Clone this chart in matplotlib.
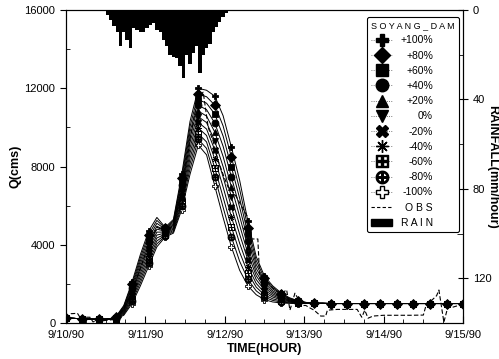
"""Soyang dam: simulated hydrographs for parameter change +-100%, obs and rainfall."""
import matplotlib
matplotlib.use("Agg")
import matplotlib.pyplot as plt
from matplotlib.lines import Line2D
from matplotlib.patches import Patch
import numpy as np

plt.rcParams["font.family"] = ["Liberation Sans", "DejaVu Sans"]

# ---------------------------------------------------------------- data
# simulated discharge every 2.5 h (0 .. 120 h)
hours = np.arange(0, 120.1, 2.5)
head_q = [260, 240, 220, 200, 190, 200]                      # 0 .. 12.5 h
tail_q = [1010, 1010, 1000, 1000, 1000, 1000, 1000, 1000, 1000, 1000,
          1000, 1000, 1000, 1000, 1000, 1000, 1000, 1000, 1000]  # 75 .. 120 h
# 15 .. 72.5 h, one list per scenario
sim_p100 = [300, 900, 2100, 3500, 4700, 5400, 4900, 5300, 7600, 10300, 12000, 11900,
            11600, 10600, 9000, 7300, 5200, 3400, 2400, 1900, 1550, 1300, 1150, 1060]
sim_p80 = [290, 850, 1990, 3340, 4520, 5250, 4850, 5230, 7420, 10030, 11710, 11570,
           11140, 10080, 8490, 6840, 4870, 3200, 2280, 1820, 1500, 1270, 1135, 1055]
sim_p60 = [280, 800, 1880, 3180, 4340, 5100, 4800, 5160, 7240, 9760, 11420, 11240,
           10680, 9560, 7980, 6380, 4540, 3000, 2160, 1740, 1450, 1240, 1120, 1050]
sim_p40 = [270, 750, 1770, 3020, 4160, 4950, 4750, 5090, 7060, 9490, 11130, 10910,
           10220, 9040, 7470, 5920, 4210, 2800, 2040, 1650, 1390, 1210, 1105, 1040]
sim_p20 = [260, 700, 1660, 2860, 3980, 4800, 4700, 5020, 6880, 9220, 10840, 10580,
           9760, 8520, 6960, 5460, 3880, 2600, 1920, 1570, 1340, 1180, 1090, 1035]
sim_0 = [250, 650, 1550, 2700, 3800, 4650, 4650, 4950, 6700, 8950, 10550, 10250,
         9300, 8000, 6450, 5000, 3550, 2420, 1800, 1490, 1290, 1155, 1075, 1030]
sim_m20 = [240, 600, 1440, 2540, 3620, 4500, 4600, 4880, 6520, 8680, 10260, 9920,
           8840, 7480, 5940, 4540, 3220, 2230, 1680, 1410, 1240, 1125, 1060, 1025]
sim_m40 = [230, 550, 1330, 2380, 3440, 4350, 4550, 4810, 6340, 8410, 9970, 9590,
           8380, 6960, 5430, 4080, 2890, 2030, 1560, 1330, 1190, 1100, 1045, 1020]
sim_m60 = [220, 500, 1220, 2220, 3260, 4200, 4500, 4740, 6160, 8140, 9680, 9260,
           7920, 6440, 4920, 3620, 2560, 1840, 1440, 1240, 1130, 1070, 1030, 1010]
sim_m80 = [210, 450, 1110, 2060, 3080, 4050, 4450, 4670, 5980, 7870, 9390, 8930,
           7460, 5920, 4410, 3160, 2230, 1650, 1320, 1160, 1080, 1040, 1015, 1005]
sim_m100 = [200, 400, 1000, 1900, 2900, 3900, 4400, 4600, 5800, 7600, 9100, 8600,
            7000, 5400, 3900, 2700, 1900, 1450, 1200, 1080, 1030, 1010, 1000, 1000]
sim_labels = ["+100%", "+80%", "+60%", "+40%", "+20%", "0%",
              "-20%", "-40%", "-60%", "-80%", "-100%"]

# observed discharge (irregular read-off times)
obs_t = [0, 1.5, 3.5, 4.8, 6.3, 7.3, 8.2, 9.5, 11, 13, 15, 17.5, 20, 22.5, 25,
         27.5, 30, 32.5, 35, 37.5, 40, 41.5, 43, 44.5, 46, 47.5, 49, 51, 53, 55,
         56, 58, 58.5, 60, 62.5, 65, 66.7, 67.7, 69.2, 71.3, 72.5, 74, 75, 77,
         78.5, 79, 82, 85, 88, 89.4, 90.3, 91.3, 92.8, 96, 100, 104, 108, 109,
         110.6, 112, 112.7, 114.2, 115.4, 117, 119, 120]
obs_q = [250, 480, 500, 150, 300, 300, 60, 150, 120, 150, 200, 700, 1600, 2800,
         4000, 4900, 4700, 5000, 6800, 9400, 11600, 11800, 10000, 9300, 8300,
         7600, 6950, 6600, 6000, 5400, 4300, 4300, 2500, 2300, 1800, 1500, 1700,
         660, 1530, 900, 900, 750, 660, 360, 360, 660, 700, 700, 700, 300, 660,
         250, 360, 400, 400, 400, 410, 1020, 1175, 1400, 1690, 50, 820, 820, 920,
         900]

# hourly rainfall (mm/hour), hours 12 .. 49
rain_h = np.arange(12, 50)
rain = [2, 4.5, 7, 10, 16, 10, 13.5, 17, 8, 9, 10, 10, 8, 6.5, 6, 9, 10, 13.5,
        16, 20, 21, 21.5, 25, 30.5, 20, 24, 19, 16, 28, 20, 17, 15, 10, 7.5,
        5.5, 3, 1.5, 0.5]

day_labels = ["9/10/90", "9/11/90", "9/12/90", "9/13/90", "9/14/90", "9/15/90"]

# ---------------------------------------------------------------- figure
fig = plt.figure(figsize=(4.99, 3.59), dpi=100)
ax = fig.add_axes([0.132, 0.100, 0.796, 0.872])
ax2 = ax.twinx()

sims = [sim_p100, sim_p80, sim_p60, sim_p40, sim_p20, sim_0,
        sim_m20, sim_m40, sim_m60, sim_m80, sim_m100]
markers = ["P", "D", "s", "o", "^", "v", "X", (8, 2, 0),
           r"$\boxplus$", r"$\oplus$", "P"]
faces = ["k"] * 10 + ["w"]

# draw -100% first so the filled markers end up on top
for mid, m, fc in list(zip(sims, markers, faces))[::-1]:
    q = head_q + mid + tail_q
    ax.plot(hours, q, color="k", lw=0.7, marker=m, ms=5, mfc=fc, mec="k",
            mew=0.6, markevery=2)
ax.plot(obs_t, obs_q, color="k", lw=0.8, ls=(0, (4, 2)))

ax2.bar(rain_h, rain, width=1.0, align="edge", color="k", lw=0)

ax.set_xlim(0, 120)
ax.set_ylim(0, 16000)
ax2.set_ylim(140, 0)

ax.set_xticks(np.arange(0, 121, 24))
ax.set_xticklabels(day_labels)
ax.set_xticks(np.arange(0, 121, 6), minor=True)
ax.set_yticks([0, 4000, 8000, 12000, 16000])
ax.set_yticks(np.arange(0, 16001, 2000), minor=True)
ax2.set_yticks([0, 40, 80, 120])
ax2.set_yticks([20, 60, 100, 140], minor=True)

ax.tick_params(axis="x", which="major", direction="in", length=5, labelsize=8, pad=5)
ax.tick_params(axis="x", which="minor", direction="in", length=3)
ax.tick_params(axis="y", which="major", direction="out", length=4, labelsize=8)
ax.tick_params(axis="y", which="minor", direction="in", length=3)
ax2.tick_params(axis="y", which="major", direction="inout", length=7, labelsize=8)
ax2.tick_params(axis="y", which="minor", direction="in", length=4)
for a in (ax, ax2):
    for s in a.spines.values():
        s.set_linewidth(0.8)

ax.set_xlabel("TIME(HOUR)", fontsize=9, fontweight="bold", labelpad=2)
ax.set_ylabel("Q(cms)", fontsize=9, fontweight="bold", labelpad=2)
ax2.set_ylabel("RAINFALL(mm/hour)", fontsize=9, fontweight="bold",
               rotation=270, va="center")
ax2.yaxis.set_label_coords(1.072, 0.5)

# legend with bigger proxy markers
handles = []
for m, fc in zip(markers, faces):
    size = 8 if m == "D" else 9
    handles.append(Line2D([], [], color="0.3", lw=0.6, ls=":", marker=m, ms=size,
                          mfc=fc, mec="k", mew=1.0))
handles.append(Line2D([], [], color="k", lw=0.8, ls=(0, (3, 2))))
handles.append(Patch(facecolor="k", edgecolor="k"))
labels = sim_labels + ["O B S", "R A I N"]
leg = ax2.legend(handles, labels, loc="upper right", bbox_to_anchor=(0.99, 0.978),
                 bbox_transform=ax.transAxes, borderaxespad=0, fontsize=7.5,
                 title="S O Y A N G _ D A M", title_fontsize=6.5, alignment="left",
                 handlelength=2.0, handletextpad=0.8, labelspacing=0.5,
                 borderpad=0.4, fancybox=True, framealpha=1, edgecolor="k")
leg.get_frame().set_linewidth(0.8)

# right-align the legend labels
fig.canvas.draw()
r = fig.canvas.get_renderer()
texts = leg.get_texts()
widths = [t.get_window_extent(r).width for t in texts]
for t, w in zip(texts, widths):
    t.set_position((max(widths) - w, 0))

fig.savefig("out.png", dpi=100)
